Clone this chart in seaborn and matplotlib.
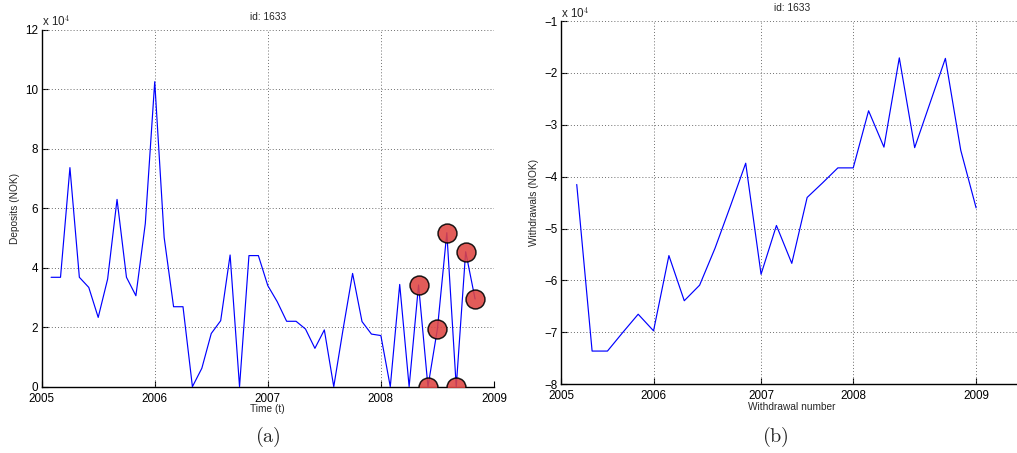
import numpy as np
import pandas as pd
import matplotlib
matplotlib.use("Agg")
import matplotlib.pyplot as plt
import seaborn as sns

# ---- data -------------------------------------------------------------
# Monthly deposits (units of 10^4 NOK), months counted from January 2005
deposit_month = list(range(1, 47))
deposits = [3.68, 3.68, 7.37, 3.68, 3.34, 2.33, 3.62, 6.30, 3.68, 3.06, 5.49, 10.26,
            5.02, 2.69, 2.69, 0.00, 0.62, 1.79, 2.22, 4.43, 0.00, 4.41, 4.41, 3.40,
            2.86, 2.20, 2.20, 1.94, 1.29, 1.91, 0.00, 1.95, 3.81, 2.19, 1.77, 1.72,
            0.00, 3.44, 0.00, 3.42, 0.00, 1.94, 5.18, 0.00, 4.54, 2.95]
flagged_months = [40, 41, 42, 43, 44, 45, 46]

# Withdrawals (units of 10^4 NOK) by withdrawal number
withdrawal_number = list(range(1, 28))
withdrawals = [-4.15, -7.36, -7.36, -7.00, -6.65, -6.97, -5.52, -6.39, -6.09, -5.38,
               -4.57, -3.74, -5.88, -4.94, -5.67, -4.40, -4.12, -3.83, -3.83, -2.73,
               -3.43, -1.71, -3.44, -2.58, -1.72, -3.49, -4.60]
withdrawal_year_ticks = [0, 6, 13, 19, 27]
year_labels = ["2005", "2006", "2007", "2008", "2009"]

dep_df = pd.DataFrame({"year": [2005 + m / 12 for m in deposit_month],
                       "deposit": deposits, "month": deposit_month})
flag_df = dep_df[dep_df["month"].isin(flagged_months)]
wd_df = pd.DataFrame({"n": withdrawal_number, "withdrawal": withdrawals})

# ---- style ------------------------------------------------------------
sns.set_theme(style="white")
plt.rcParams["font.family"] = ["Liberation Sans", "DejaVu Sans"]
plt.rcParams["mathtext.fontset"] = "cm"
plt.rcParams["axes.unicode_minus"] = True

TICK_FS = 8.4
LABEL_FS = 7.3
GRID = dict(color="#6e6e6e", linestyle=(0, (1, 2.2)), linewidth=0.7,
            dash_capstyle="butt")

fig = plt.figure(figsize=(10.17, 4.53), dpi=100)
ax1 = fig.add_axes([0.04097, 0.1464, 0.4447, 0.7874])
ax2 = fig.add_axes([0.5520, 0.1517, 0.4531, 0.8019])


def style_axes(ax):
    for side in ("top", "right"):
        ax.spines[side].set_visible(False)
    for side in ("left", "bottom"):
        ax.spines[side].set_color("black")
        ax.spines[side].set_linewidth(1.0)
    ax.tick_params(direction="in", length=4, width=0.8, colors="black",
                   labelsize=TICK_FS, left=True, bottom=True)
    ax.tick_params(axis="x", pad=4.2)
    ax.tick_params(axis="y", pad=2.5)
    ax.set_facecolor("white")
    ax.set_axisbelow(True)


# ---- (a) deposits -----------------------------------------------------
sns.lineplot(data=dep_df, x="year", y="deposit", ax=ax1, color="#0000ff",
             linewidth=0.85, estimator=None, sort=False, zorder=3)
sns.scatterplot(data=flag_df, x="year", y="deposit", ax=ax1, s=185,
                color=(0.87, 0.27, 0.26), edgecolor="black", linewidth=1.1,
                alpha=0.88, zorder=4, legend=False)
ax1.set_xlim(2005, 2009)
ax1.set_ylim(0, 12)
ax1.set_xticks([2005, 2006, 2007, 2008, 2009])
ax1.set_xticklabels(year_labels)
ax1.set_yticks(range(0, 13, 2))
ax1.set_yticklabels([str(v) for v in range(0, 13, 2)])
style_axes(ax1)
for yv in range(0, 13, 2):
    ax1.axhline(yv, zorder=1, **GRID)
for xv in [2006, 2007, 2008, 2009]:
    ax1.axvline(xv, zorder=1, **GRID)
ax1.set_xlabel("")
ax1.set_ylabel("")
ax1.text(0.5, -0.063, "Time (t)", transform=ax1.transAxes, ha="center",
         va="center", fontsize=LABEL_FS)
ax1.text(-0.059, 0.5, "Deposits (NOK)", transform=ax1.transAxes, ha="center",
         va="center", rotation=90, fontsize=LABEL_FS)
ax1.text(0.5, 1.036, "id: 1633", transform=ax1.transAxes, ha="center",
         va="center", fontsize=LABEL_FS)
ax1.text(0.0, 1.024, r"x 10$^{\mathsf{4}}$", transform=ax1.transAxes,
         ha="left", va="center", fontsize=TICK_FS)

# ---- (b) withdrawals --------------------------------------------------
sns.lineplot(data=wd_df, x="n", y="withdrawal", ax=ax2, color="#0000ff",
             linewidth=0.85, estimator=None, sort=False, zorder=3)
ax2.set_xlim(0, 30)
ax2.set_ylim(-8, -1)
ax2.set_xticks(withdrawal_year_ticks)
ax2.set_xticklabels(year_labels)
ax2.set_yticks(range(-8, 0))
style_axes(ax2)
for yv in range(-7, 0):
    ax2.axhline(yv, zorder=1, **GRID)
for xv in withdrawal_year_ticks[1:]:
    ax2.axvline(xv, zorder=1, **GRID)
ax2.set_xlabel("")
ax2.set_ylabel("")
ax2.text(0.5, -0.063, "Withdrawal number", transform=ax2.transAxes,
         ha="center", va="center", fontsize=LABEL_FS)
ax2.text(-0.0594, 0.5, "Withdrawals (NOK)", transform=ax2.transAxes,
         ha="center", va="center", rotation=90, fontsize=LABEL_FS)
ax2.text(0.5, 1.035, "id: 1633", transform=ax2.transAxes, ha="center",
         va="center", fontsize=LABEL_FS)
ax2.text(0.0, 1.021, r"x 10$^{\mathsf{4}}$", transform=ax2.transAxes,
         ha="left", va="center", fontsize=TICK_FS)

# ---- sub-figure captions ---------------------------------------------
fig.text(0.2635, 0.0353, r"$\mathrm{(a)}$", ha="center", va="center", fontsize=14.5)
fig.text(0.762, 0.0353, r"$\mathrm{(b)}$", ha="center", va="center", fontsize=14.5)

fig.savefig("out.png", dpi=100, facecolor="white")
